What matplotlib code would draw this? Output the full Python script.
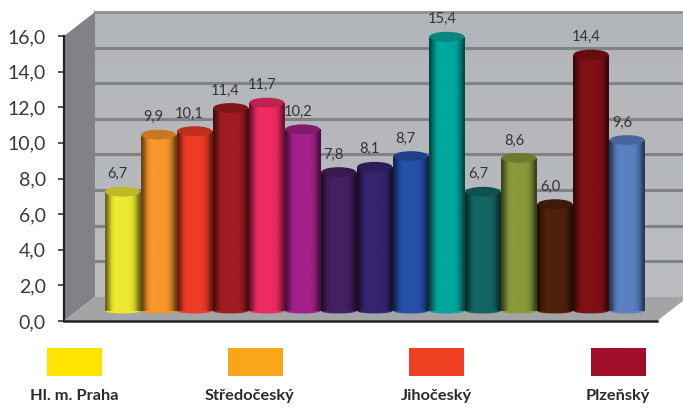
import matplotlib
matplotlib.use('Agg')
import matplotlib.pyplot as plt
import numpy as np
from matplotlib.colors import to_rgb
from matplotlib.patches import Ellipse, Polygon, Rectangle

plt.rcParams['font.family'] = ['Lato', 'DejaVu Sans']

values = [6.7, 9.9, 10.1, 11.4, 11.7, 10.2, 7.8, 8.1, 8.7, 15.4, 6.7, 8.6, 6.0, 14.4, 9.6]
colors = ['#ECE92F', '#F7962A', '#EE3B24', '#A01C22', '#EE2A62', '#A3208A', '#43205F', '#35246F',
          '#2450A8', '#00A79D', '#126560', '#87993A', '#50210A', '#7F1015', '#5B80C0']
ticks = [0, 2, 4, 6, 8, 10, 12, 14, 16]

legend_names = ['Hl. m. Praha', 'Středočeský', 'Jihočeský', 'Plzeňský']
legend_colors = ['#FFE400', '#FAA61A', '#F04023', '#A10E2B']
legend_left = [47, 228, 409, 591]
legend_text_x = [74, 249.5, 436, 618]

W, H = 683, 408
fig = plt.figure(figsize=(W / 100, H / 100), dpi=100)
ax = fig.add_axes([64 / W, (H - 321) / H, (W - 64) / W, 285 / H])

# 1 category = 36 px, 1 value unit = 17.8 px
xlo = (64 - 122.5) / 36.04
xhi = (683 - 122.5) / 36.04
ax.set_xlim(xlo, xhi)
ax.set_ylim(0, 16)
ax.set_facecolor('none')

dx = 31 / 36.04   # depth of the fake 3D box
dy = 24 / 17.8
x_end = (657 - 122.5) / 36.04
top_shift = 0.56
base = 0.55

# back wall
wall_img = np.zeros((5, 4, 3))
for j, g in enumerate([0.70, 0.71, 0.71, 0.72, 0.73]):
    wall_img[j, :] = [g, g + 0.01, g + 0.025]
im = ax.imshow(wall_img, extent=(xlo + dx, xhi, dy, 16 + dy), aspect='auto', zorder=1,
               interpolation='bilinear', origin='upper')
im.set_clip_on(False)

# side wall and floor
ax.add_patch(Polygon([(xlo, 0), (xlo + dx, dy), (xlo + dx, 16 + dy), (xlo, 16)],
                     facecolor='#808285', edgecolor='none', zorder=2, clip_on=False))
ax.add_patch(Polygon([(xlo, 0), (x_end, 0), (x_end + dx, dy), (xlo + dx, dy)],
                     facecolor='#A2A4A6', edgecolor='none', zorder=2, clip_on=False))
ax.plot([xlo + dx, xhi], [16 + dy, 16 + dy], color='#8E9093', lw=2, zorder=2, clip_on=False)

for t in ticks[1:-1]:
    ax.plot([xlo + dx, xhi], [t + dy, t + dy], color='#808285', lw=2.2, zorder=2, clip_on=False)

# cylinders
shade = np.array([0.45, 0.68, 0.92, 1.0, 1.02, 1.0, 1.0, 1.0, 1.0, 0.97, 0.88, 0.68, 0.45])
for i, (v, c) in enumerate(zip(values, colors)):
    rgb = np.array(to_rgb(c))
    z = 3 + i * 0.01
    ax.add_patch(Ellipse((i, base), 0.96, 0.25, facecolor=rgb, edgecolor='none', zorder=z))
    height = v + top_shift - base
    bar = ax.bar(i, height, width=0.98, bottom=base, color=c, zorder=z)[0]
    img = np.clip(shade[None, :, None] * rgb[None, None, :], 0, 1)
    g = ax.imshow(img, extent=(i - 0.49, i + 0.49, base, base + height), aspect='auto', zorder=z,
                  interpolation='bilinear')
    g.set_clip_path(bar)
    ax.add_patch(Ellipse((i, base + height), 0.97, 0.55, facecolor=rgb * 0.8, edgecolor='none',
                         zorder=z + 0.001, clip_on=False))
    ax.annotate(f'{v:.1f}'.replace('.', ','), (i, base + height), xytext=(-3.6, 12.5),
                textcoords='offset points', ha='center', va='center', fontsize=10.5,
                color='#333333', zorder=10, annotation_clip=False)

ax.set_xlim(xlo, xhi)
ax.set_ylim(0, 16)

# axes
for s in ['top', 'right']:
    ax.spines[s].set_visible(False)
ax.spines['left'].set_linewidth(1.6)
ax.spines['bottom'].set_linewidth(1.8)
ax.spines['left'].set_color('#23232B')
ax.spines['bottom'].set_color('#23232B')
ax.spines['bottom'].set_bounds(xlo, x_end)
ax.spines['left'].set_zorder(6)
ax.spines['bottom'].set_zorder(6)
ax.set_xticks([])
ax.set_yticks(ticks)
ax.set_yticklabels([f'{t:.1f}'.replace('.', ',') for t in ticks], fontsize=14, color='#3A3A3A')
ax.tick_params(axis='y', length=4.5, width=1.1, color='#23232B', pad=8.5)

# legend, built by hand because it sits spread out under the plot
for name, col, left, tx in zip(legend_names, legend_colors, legend_left, legend_text_x):
    fig.add_artist(Rectangle((left / W, (H - 376) / H), 55 / W, 28 / H, facecolor=col,
                             edgecolor='none', transform=fig.transFigure))
    fig.text(tx / W, (H - 396) / H, name, ha='center', va='center', fontsize=11.8,
             fontweight='bold', color='#2B2B2B')

fig.savefig('out.png', dpi=100, facecolor='white')
